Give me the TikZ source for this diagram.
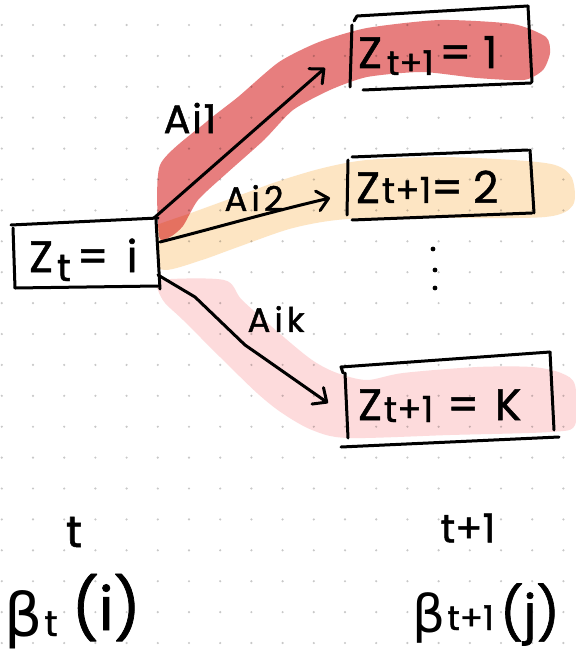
\documentclass[tikz,border=0pt]{standalone}
\usepackage{fontspec}
\setmainfont{Poppins}[FakeBold=1.2]
\newfontfamily\grkfont{DejaVu Sans}
\usetikzlibrary{arrows.meta}
\definecolor{hlred}{RGB}{231,126,126}
\definecolor{hlorange}{RGB}{253,229,195}
\definecolor{hlpink}{RGB}{253,219,220}
\definecolor{dotgray}{RGB}{200,200,200}
\newcommand{\lowsub}[3]{\raisebox{-#2}{\fontsize{#3}{#3}\selectfont #1}}
\tikzset{
  pen/.style={line width=3pt, line cap=round, line join=round, black},
  arr/.style={pen, -{Straight Barb[length=11pt,width=20pt,round]}},
  boxtxt/.style={anchor=base west, inner sep=0pt, font=\fontsize{44}{44}\selectfont},
  lbl/.style={inner sep=0pt, font=\fontsize{34}{34}\selectfont\addfontfeature{LetterSpace=12}},
}
\begin{document}
\begin{tikzpicture}[x=1pt,y=-1pt]
\useasboundingbox (0,0) rectangle (575,652);
\fill[white] (0,0) rectangle (575,652);
% dot grid
\foreach \i in {0,...,18}{
  \foreach \j in {0,...,20}{
    \fill[dotgray] ({1.8+31.2*\i},{25+30.9*\j}) circle (1.2);
  }
}
% highlights
\begin{scope}[blend mode=multiply]
\fill[hlorange] plot[smooth cycle, tension=0.5] coordinates {
  (150,228) (191,213) (235,197) (279,181) (323,168) (367,160) (440,157)
  (513,160) (555,165) (572,178) (573,205) (545,217) (440,218) (348,219)
  (293,228) (238,247) (202,260) (165,270) (147,258) (145,240)};
\fill[hlpink] plot[smooth cycle, tension=0.5] coordinates {
  (158,280) (224,280) (242,300) (279,333) (312,360) (337,373) (367,380)
  (403,373) (477,367) (532,367) (561,373) (575,385) (575,425) (550,432)
  (450,435) (348,438) (312,430) (282,413) (257,393) (220,357) (183,320)
  (165,303) (158,290)};
\fill[hlred] plot[smooth cycle, tension=0.4] coordinates {
  (159,236) (160,165) (205,123) (238,97) (279,62) (319,42) (367,28)
  (440,20) (513,24) (546,37) (550,53) (543,70) (524,80) (477,78)
  (422,72) (367,77) (330,90) (293,110) (264,140) (227,173) (198,200)
  (183,226) (170,237)};
\end{scope}
% box Z_t = i
\fill[white] (12,225) -- (157,219) -- (159,287) -- (15,288) -- cycle;
\draw[pen] (11,225) -- (158,218);
\draw[pen] (13,228) -- (15,288);
\draw[pen] (15,288) -- (158,286);
\draw[pen] (156,220) -- (160,289);
\node[boxtxt] (zt) at (29,272) {Z\kern4pt\lowsub{t}{9pt}{38}\kern6pt=\kern18pt i};
% box Z_{t+1} = 1
\draw[pen] (354,21) -- (357,16) -- (528,6);
\draw[pen] (528,6) -- (532,82);
\draw[pen] (363,90) -- (531,83);
\draw[pen] (352,25) -- (350,87);
\node[boxtxt] (z1) at (358,68) {Z\kern5pt\lowsub{t+1}{7pt}{34}\kern6pt=\kern12pt 1};
% box Z_{t+1} = 2
\draw[pen] (352,157) -- (528,150);
\draw[pen] (530,150) -- (534,213);
\draw[pen] (348,160) -- (347,215);
\draw[pen] (352,220) -- (532,213);
\node[boxtxt] (z2) at (356,203) {Z\kern2pt\lowsub{t+1}{0pt}{36}=\kern10pt 2};
% box Z_{t+1} = K
\draw[pen] (343,373) -- (341,367) -- (550,352);
\draw[pen] (550,352) -- (554,430);
\draw[pen] (345,373) -- (348,438);
\draw[pen] (341,447) -- (559,437);
\node[boxtxt] (zk) at (358,420) {Z\kern2pt\lowsub{t+1}{2pt}{36}\kern14pt=\kern16pt K};
% vertical dots
\fill (433,249) circle (2.4);
\fill (435,270) circle (2.4);
\fill (435,288) circle (2.4);
% arrows
\coordinate (s1) at (154,218);
\coordinate (e1) at (325,68);
\coordinate (s2) at (160,242);
\coordinate (e2) at (330,198);
\coordinate (sk) at (158,275);
\coordinate (ek) at (328,403);
\draw[arr] (s1) -- (e1);
\draw[arr] (s2) .. controls (215,228) and (270,212) .. (e2);
\draw[arr] (sk) -- (195,297) -- (245,345) -- (258,354) -- (ek);
% arrow labels
\node[lbl, font=\fontsize{40}{40}\selectfont\addfontfeature{LetterSpace=4}] (a1) at (190,118) {Ai1};
\node[lbl] (a2) at (254,198) {Ai2};
\node[lbl] (ak) at (276,319) {Aik};
% time labels
\node[lbl, font=\fontsize{44}{44}\selectfont] (tl) at (74,532) {t};
\node[lbl, font=\fontsize{40}{40}\selectfont] (tr) at (468,528) {t+1};
\node[anchor=base west, inner sep=0pt, font=\fontsize{60}{60}\selectfont] (bl) at (4,636)
  {{\grkfont β}\kern2pt\lowsub{t}{0pt}{36}\kern14pt\raisebox{6pt}{(i)}};
\node[anchor=base west, inner sep=0pt, font=\fontsize{52}{52}\selectfont] (br) at (412,632)
  {{\grkfont β}\kern2pt\lowsub{t+1}{-2pt}{34}\kern6pt(j)};
\end{tikzpicture}
\end{document}
